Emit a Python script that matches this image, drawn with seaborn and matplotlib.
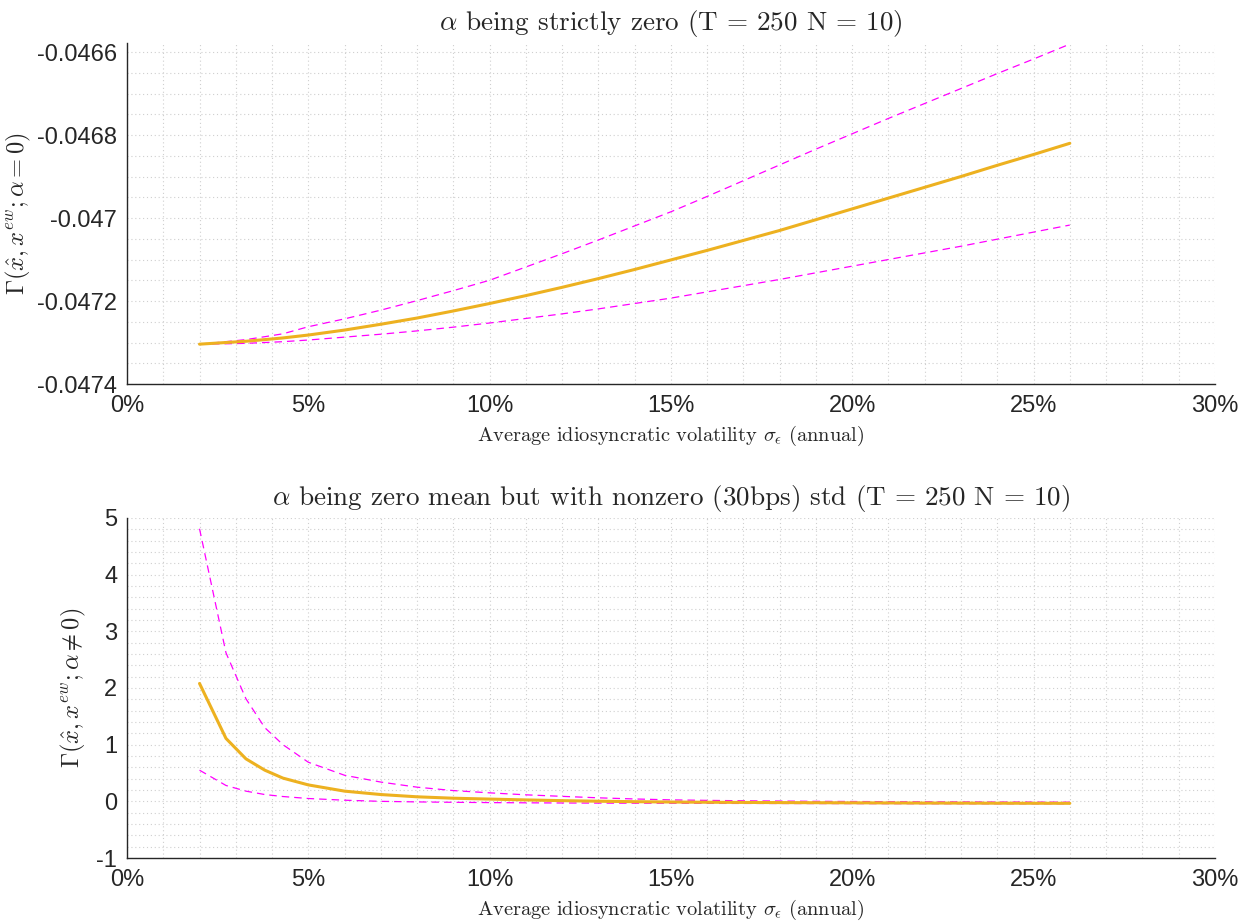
import matplotlib
matplotlib.use("Agg")
import matplotlib.pyplot as plt
from matplotlib.ticker import MultipleLocator, PercentFormatter, FuncFormatter
import seaborn as sns
import pandas as pd

# average idiosyncratic volatility (annual)
sigma = [0.02, 0.0273, 0.0328, 0.038, 0.043, 0.05, 0.06, 0.07, 0.08, 0.09, 0.10,
         0.11, 0.12, 0.13, 0.14, 0.15, 0.16, 0.17, 0.18, 0.19, 0.20, 0.21, 0.22,
         0.23, 0.24, 0.25, 0.26]

# alpha strictly zero
zero_mid = [-0.047304, -0.047300, -0.047297, -0.047293, -0.047289, -0.047282, -0.047270,
            -0.047256, -0.047241, -0.047224, -0.047206, -0.047187, -0.047167, -0.047146,
            -0.047124, -0.047101, -0.047078, -0.047054, -0.047030, -0.047004, -0.046978,
            -0.046952, -0.046926, -0.046900, -0.046873, -0.046847, -0.046820]
zero_hi = [-0.047304, -0.047298, -0.047293, -0.047286, -0.047279, -0.047262, -0.047243,
           -0.047222, -0.047199, -0.047175, -0.047150, -0.047118, -0.047086, -0.047053,
           -0.047019, -0.046985, -0.046948, -0.046910, -0.046872, -0.046834, -0.046797,
           -0.046760, -0.046724, -0.046688, -0.046652, -0.046617, -0.046581]
zero_lo = [-0.047304, -0.047303, -0.047302, -0.047300, -0.047298, -0.047294, -0.047287,
           -0.047280, -0.047272, -0.047263, -0.047253, -0.047242, -0.047231, -0.047219,
           -0.047206, -0.047193, -0.047178, -0.047163, -0.047148, -0.047132, -0.047116,
           -0.047100, -0.047084, -0.047068, -0.047051, -0.047034, -0.047017]

# alpha zero mean, 30bps std
nz_mid = [2.08, 1.11, 0.75, 0.55, 0.41, 0.29, 0.18, 0.12, 0.08, 0.055, 0.04, 0.025, 0.012,
          0.002, -0.006, -0.012, -0.016, -0.019, -0.022, -0.024, -0.026, -0.028, -0.030,
          -0.031, -0.033, -0.034, -0.035]
nz_hi = [4.81, 2.62, 1.81, 1.30, 1.00, 0.69, 0.46, 0.34, 0.25, 0.19, 0.15, 0.115, 0.088,
         0.062, 0.042, 0.026, 0.017, 0.010, 0.005, 0.0, -0.003, -0.006, -0.008, -0.010,
         -0.012, -0.013, -0.015]
nz_lo = [0.55, 0.28, 0.18, 0.12, 0.085, 0.05, 0.02, 0.0, -0.01, -0.017, -0.022, -0.026,
         -0.029, -0.031, -0.033, -0.034, -0.036, -0.037, -0.038, -0.039, -0.040, -0.041,
         -0.042, -0.042, -0.043, -0.043, -0.044]

top = pd.DataFrame({"sigma": sigma, "mid": zero_mid, "hi": zero_hi, "lo": zero_lo})
bot = pd.DataFrame({"sigma": sigma, "mid": nz_mid, "hi": nz_hi, "lo": nz_lo})

sns.set_style("white")
plt.rcParams["mathtext.fontset"] = "cm"
plt.rcParams["axes.unicode_minus"] = False
plt.rcParams["font.family"] = ["Liberation Sans", "DejaVu Sans"]

fig = plt.figure(figsize=(12.39, 9.22), dpi=100)
ax1 = fig.add_axes([0.1025, 0.5835, 0.878, 0.37])
ax2 = fig.add_axes([0.1025, 0.0694, 0.878, 0.3688])

orange = "#EDB120"
magenta = "#FF00FF"
xlab = r"Average idiosyncratic volatility $\sigma_\epsilon$ (annual)"

for ax, df in [(ax1, top), (ax2, bot)]:
    sns.lineplot(data=df, x="sigma", y="hi", ax=ax, color=magenta, lw=0.9,
                 linestyle=(0, (6, 4)))
    sns.lineplot(data=df, x="sigma", y="lo", ax=ax, color=magenta, lw=0.9,
                 linestyle=(0, (6, 4)))
    sns.lineplot(data=df, x="sigma", y="mid", ax=ax, color=orange, lw=2.2)
    ax.set_xlim(0, 0.30)
    ax.xaxis.set_major_locator(MultipleLocator(0.05))
    ax.xaxis.set_minor_locator(MultipleLocator(0.01))
    ax.xaxis.set_major_formatter(PercentFormatter(xmax=1, decimals=0))
    ax.grid(which="both", linestyle=(0, (1, 2.5)), color="#cfcfcf", linewidth=0.8)
    ax.tick_params(which="major", direction="in", length=8.5, width=1,
                   colors="#262626", labelsize=17, pad=8)
    ax.tick_params(axis="y", which="major", pad=7)
    ax.tick_params(which="minor", length=0)
    for s in ["top", "right"]:
        ax.spines[s].set_visible(False)
    for s in ["left", "bottom"]:
        ax.spines[s].set_color("#262626")
        ax.spines[s].set_linewidth(1)
    ax.set_xlabel(xlab, family="cmr10", fontsize=14.7, color="#262626", labelpad=5)

ax1.set_ylim(-0.0474, -0.046578)
ax1.yaxis.set_major_locator(MultipleLocator(0.0002))
ax1.yaxis.set_minor_locator(MultipleLocator(0.00005))
ax1.yaxis.set_major_formatter(FuncFormatter(lambda v, p: "%g" % round(v, 6)))
ax1.set_ylabel(r"$\Gamma(\hat{x},x^{ew};\alpha=0)$", fontsize=17.6, color="#262626")
ax1.yaxis.set_label_coords(-0.0864, 0.5)
ax1.set_title(r"$\alpha$ being strictly zero (T = 250 N = 10)", family="cmr10",
              fontsize=19.5, pad=9)

ax2.set_ylim(-1, 5)
ax2.yaxis.set_major_locator(MultipleLocator(1))
ax2.yaxis.set_minor_locator(MultipleLocator(0.2))
ax2.yaxis.set_major_formatter(FuncFormatter(lambda v, p: "%g" % v))
ax2.set_ylabel(r"$\Gamma(\hat{x},x^{ew};\alpha\neq0)$", fontsize=17.6, color="#262626")
ax2.yaxis.set_label_coords(-0.036, 0.5)
ax2.set_title(r"$\alpha$ being zero mean but with nonzero (30bps) std (T = 250 N = 10)",
              family="cmr10", fontsize=19.5, pad=9)

fig.savefig("out.png", dpi=100)
